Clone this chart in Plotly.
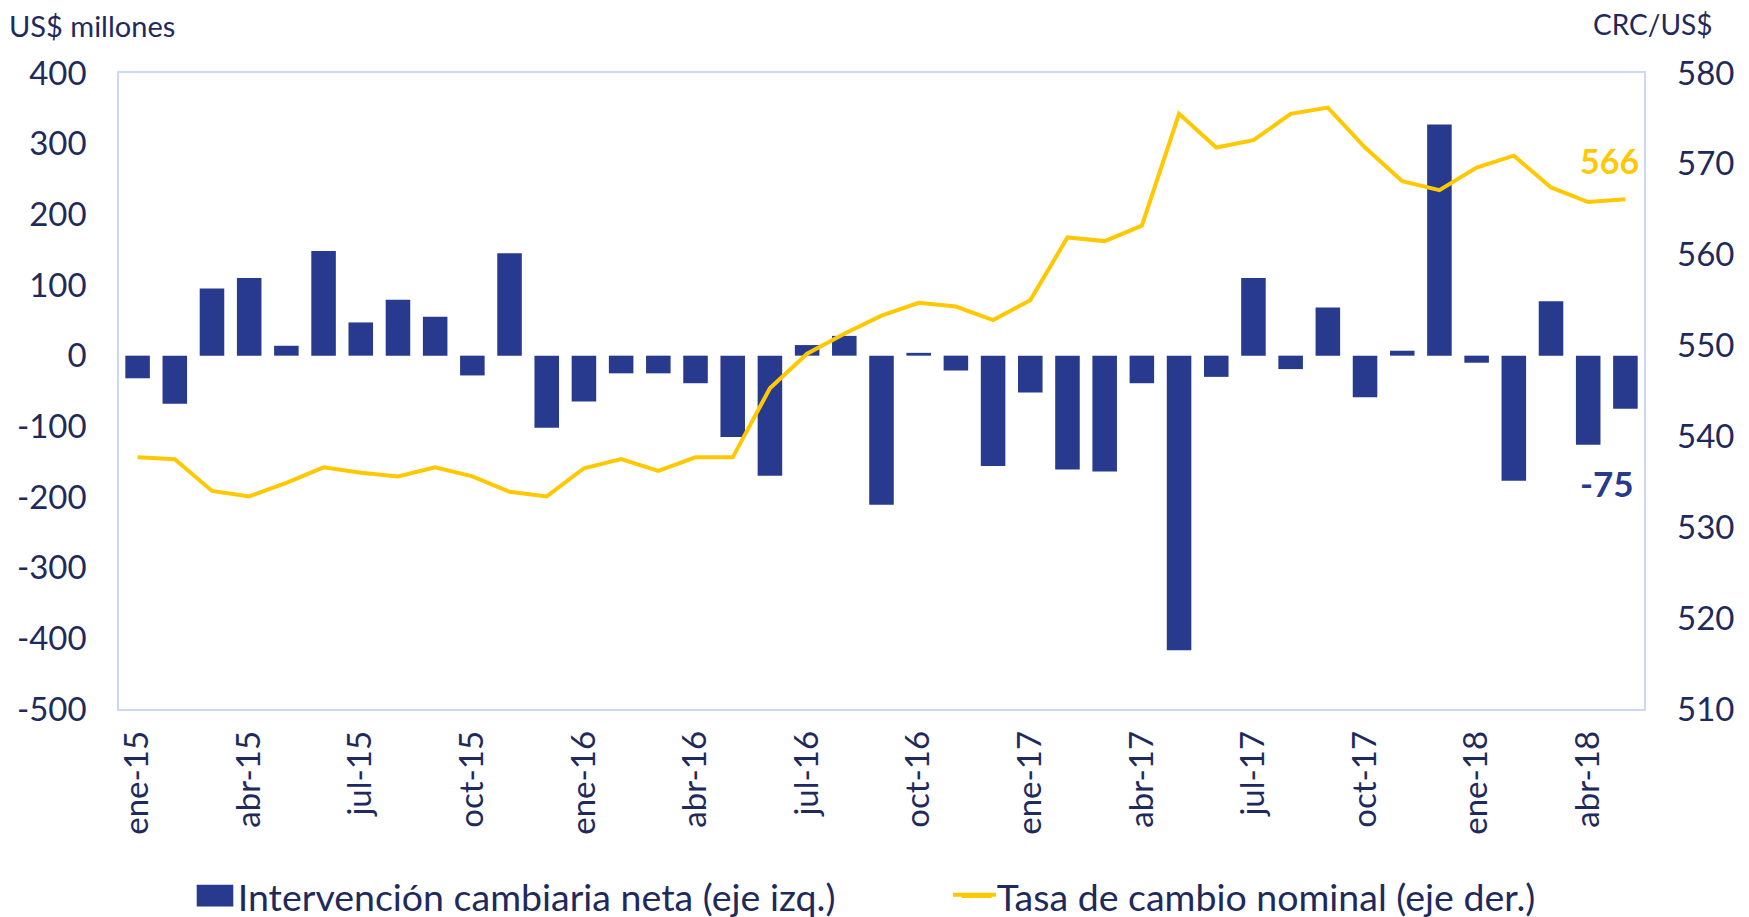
import plotly.graph_objects as go

meses = ["ene-15","feb-15","mar-15","abr-15","may-15","jun-15","jul-15","ago-15","sep-15","oct-15","nov-15","dic-15",
         "ene-16","feb-16","mar-16","abr-16","may-16","jun-16","jul-16","ago-16","sep-16","oct-16","nov-16","dic-16",
         "ene-17","feb-17","mar-17","abr-17","may-17","jun-17","jul-17","ago-17","sep-17","oct-17","nov-17","dic-17",
         "ene-18","feb-18","mar-18","abr-18","may-18"]

intervencion = [-32, -68, 95, 110, 14, 148, 47, 79, 55, -28, 145, -102,
                -65, -25, -25, -39, -115, -170, 15, 28, -211, 4, -21, -156,
                -52, -161, -164, -39, -417, -30, 110, -19, 68, -59, 7, 327,
                -10, -177, 77, -126, -75]

tasa = [537.7, 537.5, 534.0, 533.4, 534.9, 536.6, 536.0, 535.6, 536.6, 535.6, 533.9, 533.4,
        536.5, 537.5, 536.2, 537.7, 537.7, 545.3, 549.1, 551.3, 553.3, 554.7, 554.3, 552.8,
        555.0, 561.9, 561.5, 563.2, 575.5, 571.8, 572.6, 575.5, 576.2, 571.8, 568.1, 567.1,
        569.6, 570.9, 567.4, 565.8, 566.1]

tick_labels = ["ene-15","abr-15","jul-15","oct-15","ene-16","abr-16","jul-16","oct-16",
               "ene-17","abr-17","jul-17","oct-17","ene-18","abr-18"]

y_ticks = [-500, -400, -300, -200, -100, 0, 100, 200, 300, 400]
y2_ticks = [510, 520, 530, 540, 550, 560, 570, 580]

BAR = "#283A8E"
LINE = "#FFC800"
TXT = "#1F2A5C"
BORDER = "#CDD8F2"
FONT = "Lato"

# the page body adds an 8px offset; figure sized so it ends at the window edge
OFF = 8
W, H = 1741, 909
L, R, T, B = 111, 105, 64.5, 208
PW, PH = W - L - R, H - T - B

def px_x(xp):
    """page x (px) -> paper fraction"""
    return (xp - OFF - L) / PW

def px_y(yp):
    """page y (px) -> paper fraction"""
    return (H - B - (yp - OFF)) / PH

fig = go.Figure()
fig.add_trace(go.Bar(x=meses, y=intervencion, name="Intervención cambiaria neta (eje izq.)",
                     marker=dict(color=BAR, line=dict(width=0)), width=0.66, yaxis="y"))
fig.add_trace(go.Scatter(x=meses, y=tasa, name="Tasa de cambio nominal (eje der.)",
                         mode="lines", line=dict(color=LINE, width=4), yaxis="y2"))

fig.update_layout(
    width=W, height=H,
    margin=dict(l=L, r=R, t=T, b=B, autoexpand=False),
    paper_bgcolor="white", plot_bgcolor="white",
    font=dict(family=FONT, color=TXT, size=32),
    showlegend=True,
    legend=dict(orientation="h", xref="container", yref="container",
                x=(197.7 - OFF) / W, xanchor="left", y=(H - (896 - OFF)) / H, yanchor="middle",
                font=dict(size=37.5, color=TXT), entrywidth=714, entrywidthmode="pixels",
                bgcolor="rgba(0,0,0,0)"),
    xaxis=dict(type="category", range=[-0.5, len(meses) - 0.5], automargin=False,
               tickmode="array", tickvals=tick_labels, ticktext=tick_labels,
               tickangle=-90, tickfont=dict(size=33, color=TXT),
               showgrid=False, zeroline=False, ticks="", ticklabelstandoff=7,
               showline=True, mirror=True, linecolor=BORDER, linewidth=1.5),
    yaxis=dict(range=[-500, 400], automargin=False, tickmode="array",
               tickvals=y_ticks, ticktext=[str(v) for v in y_ticks],
               tickfont=dict(size=33, color=TXT),
               showgrid=False, zeroline=False, ticks="", ticklabelstandoff=24,
               showline=True, mirror=True, linecolor=BORDER, linewidth=1.5),
    yaxis2=dict(range=[510, 580], automargin=False, tickmode="array",
                tickvals=y2_ticks, ticktext=[str(v) for v in y2_ticks],
                overlaying="y", side="right",
                tickfont=dict(size=33, color=TXT),
                showgrid=False, zeroline=False, ticks="", ticklabelstandoff=32,
                showline=False),
)

# enlarge legend swatches to match the reference style
fig.add_shape(type="rect", xref="paper", yref="paper",
              x0=px_x(196.7), x1=px_x(233.3), y0=px_y(906.7), y1=px_y(885),
              fillcolor=BAR, line=dict(width=0), layer="above")
fig.add_shape(type="line", xref="paper", yref="paper",
              x0=px_x(953), x1=px_x(996), y0=px_y(895), y1=px_y(895),
              line=dict(color=LINE, width=4), layer="above")

fig.add_annotation(text="US$ millones", xref="paper", yref="paper", x=px_x(7), y=px_y(25),
                   xanchor="left", yanchor="middle", showarrow=False, font=dict(size=29, color=TXT))
fig.add_annotation(text="CRC/US$", xref="paper", yref="paper", x=px_x(1714), y=px_y(23),
                   xanchor="right", yanchor="middle", showarrow=False, font=dict(size=28, color=TXT))

fig.add_annotation(text=f"<b>{round(tasa[-1])}</b>", x=meses[-1], y=tasa[-1], xref="x", yref="y2",
                   xshift=-16, yshift=39, showarrow=False, font=dict(size=34, color=LINE))
fig.add_annotation(text=f"<b>{intervencion[-1]}</b>", x=meses[-1], y=intervencion[-1], xref="x", yref="y",
                   xshift=-18.5, yshift=-74.5, showarrow=False, font=dict(size=35, color=BAR))

fig.write_html("out.html")
